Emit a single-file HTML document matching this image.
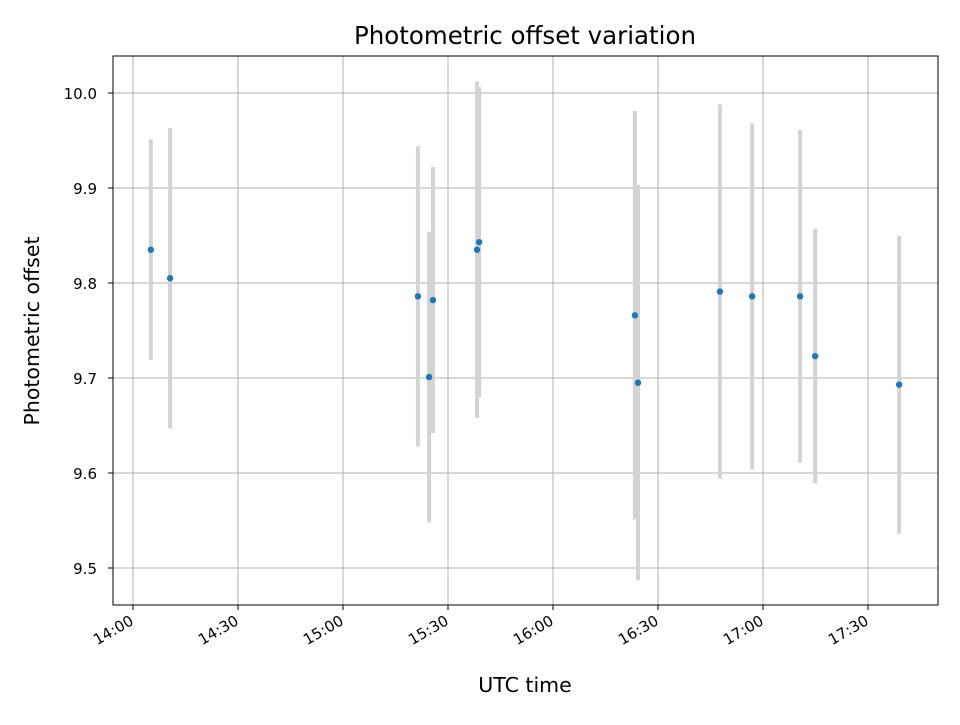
<!DOCTYPE html>
<html><head><meta charset="utf-8"><style>
body{margin:0;background:#fff;}
svg text{font-family:"DejaVu Sans","Liberation Sans",sans-serif;fill:#000;}
</style></head><body>
<svg id="chart" width="960" height="720" viewBox="0 0 960 720" xmlns="http://www.w3.org/2000/svg">
<rect width="960" height="720" fill="#fff"/>
<text x="525" y="44" font-size="24.5" text-anchor="middle">Photometric offset variation</text>
<g id="grid"></g>
<g id="errs"></g>
<g id="pts"></g>
<rect x="113" y="56" width="825" height="549" fill="none" stroke="#000" stroke-width="1"/>
<g id="ticks"></g>
<text x="525" y="692" font-size="20.5" text-anchor="middle">UTC time</text>
<text transform="translate(39,331) rotate(-90)" font-size="20.5" text-anchor="middle">Photometric offset</text>
</svg>
<script>
const timesMin = [5.1,10.6,81.4,84.6,85.7,98.3,98.9,143.4,144.3,167.7,176.9,190.6,194.9,218.9];
const offsets = [9.835,9.805,9.786,9.701,9.782,9.835,9.843,9.766,9.695,9.791,9.786,9.786,9.723,9.693];
const errors = [0.116,0.158,0.158,0.153,0.14,0.177,0.163,0.215,0.208,0.197,0.182,0.175,0.134,0.157];
const xTickLabels = ["14:00","14:30","15:00","15:30","16:00","16:30","17:00","17:30"];
const xTickMins = [0,30,60,90,120,150,180,210];
const yTicks = [9.5,9.6,9.7,9.8,9.9,10.0];
const yTickLabels = ["9.5","9.6","9.7","9.8","9.9","10.0"];

const NS="http://www.w3.org/2000/svg";
const X=m=>133+m*3.5;
const Y=v=>93+(10-v)*950;
function mk(tag,attrs,parent){const e=document.createElementNS(NS,tag);for(const k in attrs)e.setAttribute(k,attrs[k]);document.getElementById(parent).appendChild(e);return e;}
xTickMins.forEach((m,i)=>{
  const g=mk('line',{x1:X(m),x2:X(m),y1:56,y2:605,stroke:'#b0b0b0','stroke-width':1},'grid');
  
  
  const t=mk('line',{x1:X(m),x2:X(m),y1:605,y2:610,stroke:'#000'},'ticks');
  
  
  const l=mk('text',{transform:`translate(${X(m)-4},${614}) rotate(-30)`,'font-size':15,'text-anchor':'end','dominant-baseline':'hanging'},'ticks');
  
  
  l.textContent=xTickLabels[i];
});
yTicks.forEach((v,i)=>{
  const g=mk('line',{x1:113,x2:938,y1:Y(v),y2:Y(v),stroke:'#b0b0b0','stroke-width':1},'grid');
  
  
  const t=mk('line',{x1:108,x2:113,y1:Y(v),y2:Y(v),stroke:'#000'},'ticks');
  
  
  const l=mk('text',{x:97,y:Y(v)+6,'font-size':15,'text-anchor':'end'},'ticks');
  
  
  l.textContent=yTickLabels[i];
});
timesMin.forEach((m,i)=>{
  const e=mk('line',{x1:X(m),x2:X(m),y1:Y(offsets[i]+errors[i]),y2:Y(offsets[i]-errors[i]),stroke:'#d3d3d3','stroke-width':4},'errs');
  
  
  const p=mk('circle',{cx:X(m),cy:Y(offsets[i]),r:3.2,fill:'#1f77b4'},'pts');
  
  
});
</script>
</body></html>
